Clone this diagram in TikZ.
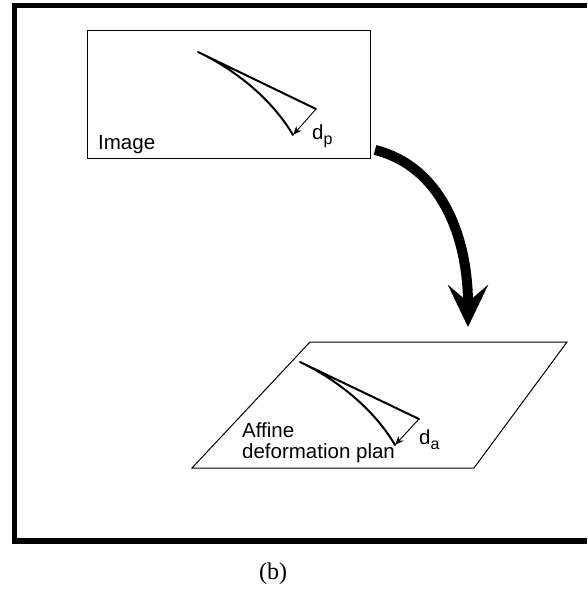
\documentclass[tikz,border=0pt]{standalone}
\usepackage{fontspec}
\setmainfont{Liberation Sans}
\newfontfamily\captionfont{Liberation Serif}
\usetikzlibrary{arrows.meta}

\newcommand{\sublabel}[2]{#1\raisebox{-5pt}{\fontsize{16}{16}\selectfont #2}}

\begin{document}
\begin{tikzpicture}[x=1pt,y=-1pt,
    thin line/.style={line width=0.9pt},
    curve line/.style={line width=2pt,line join=round,line cap=round},
    label text/.style={font=\fontsize{20.5}{21}\selectfont,inner sep=0pt}]
  \useasboundingbox (0,0) rectangle (587,595);
  % frame, open on the right
  \draw[line width=5.5pt] (587,5.5) -- (14.5,5.5) -- (14.5,541) -- (587,541);

  % image
  \node[draw,line width=1pt,minimum width=283pt,minimum height=128pt,
    anchor=north west,inner sep=0pt] (image) at (87,30) {};
  \node[label text,anchor=base west] (imagetext) at (98,149) {Image};
  \coordinate (p0) at (198,52);
  \coordinate (p1) at (316,109);
  \coordinate (p2) at (293,135);
  \draw[curve line] (p1) -- (p0) .. controls (238,71) and (273,101) .. (p2);
  \draw[thin line,-{Stealth[length=9pt,width=7pt]}] (p1) -- (p2);
  \node[label text,anchor=base west] (dp) at (312,139) {\sublabel{d}{p}};

  % affine plane
  \coordinate (bl) at (192,468);
  \coordinate (tl) at (310,342);
  \coordinate (tr) at (567,342);
  \coordinate (br) at (474,468);
  \draw[line width=1pt,line join=miter] (bl) -- (tl) -- (tr) -- (br) -- cycle;
  \coordinate (a0) at (300,362);
  \coordinate (a1) at (419,419);
  \coordinate (a2) at (395,445);
  \draw[curve line] (a1) -- (a0) .. controls (340,381) and (375,411) .. (a2);
  \draw[thin line,-{Stealth[length=9pt,width=7pt]}] (a1) -- (a2);
  \node[label text,anchor=base west] (da) at (419,444) {\sublabel{d}{a}};
  \node[label text,anchor=base west,align=left] (planetext) at (242,458)
    {Affine\\deformation plan};

  % mapping arrow
  \coordinate (from) at (375,150);
  \coordinate (to) at (468,327);
  \draw[line width=10pt,
    -{Stealth[length=42pt,width=40pt,inset=17pt]}]
    (from) .. controls (440,166) and (468,235) .. (to);

  \node[font=\captionfont\fontsize{24}{24}\selectfont,inner sep=0pt] (caption) at (273,574) {(b)};
\end{tikzpicture}
\end{document}
